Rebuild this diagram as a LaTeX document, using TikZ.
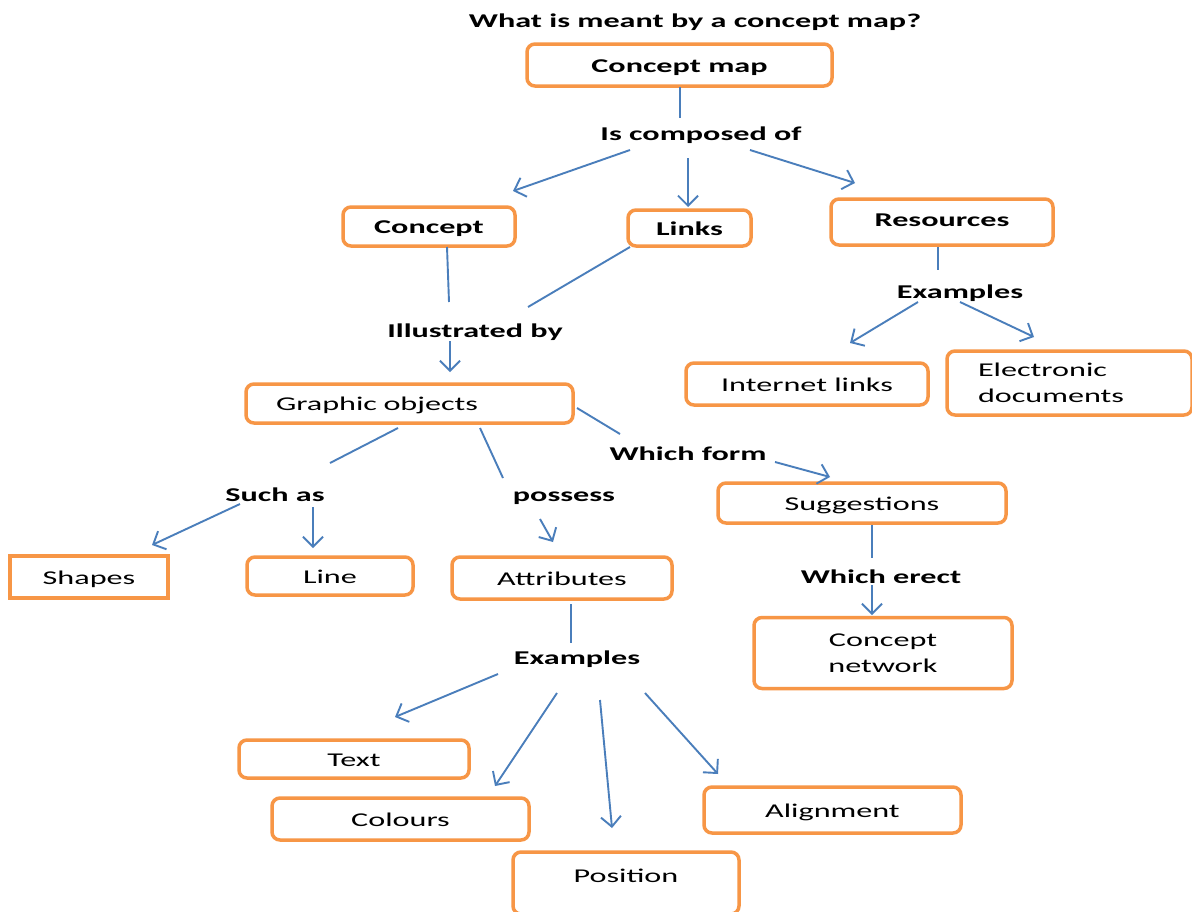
\documentclass[tikz,border=0pt]{standalone}
\usepackage{fontspec}
\setmainfont{Carlito}[FakeStretch=1.65]
\usetikzlibrary{arrows.meta}
\definecolor{boxorange}{HTML}{F79646}
\definecolor{linkblue}{HTML}{4A7EBB}
\tikzset{
  box/.style={draw=boxorange, line width=3.5pt, rounded corners=8pt, fill=white,
    font=\fontsize{19.5}{25}\selectfont, inner sep=0pt, align=center,
    text height=16pt, text depth=2pt},
  mbox/.style={draw=boxorange, line width=3.5pt, rounded corners=8pt, fill=white,
    font=\fontsize{19.5}{25.5}\selectfont, inner sep=0pt},
  sqbox/.style={box, rounded corners=0pt},
  lbl/.style={font=\fontsize{19.5}{25}\selectfont\bfseries, inner sep=0pt,
    text height=16pt, text depth=2pt},
  link/.style={draw=linkblue, line width=1.9pt},
  arr/.style={link, -{Straight Barb[length=10pt,width=20pt,line width=1.9pt]}}
}
\begin{document}
\begin{tikzpicture}[x=1pt,y=-1pt]
\useasboundingbox[fill=white] (0,0) rectangle (1192,911);
% title
\node[lbl] (title) at (695,20) {What is meant by a concept map?};
% boxes
\node[box, minimum width=305pt, minimum height=42pt, font=\fontsize{19.5}{25}\selectfont\bfseries] (cmap) at (679.5,65) {Concept map};
\node[box, minimum width=172pt, minimum height=39pt, font=\fontsize{19.5}{25}\selectfont\bfseries] (concept) at (429,226.5) {Concept};
\node[box, minimum width=123pt, minimum height=36pt, font=\fontsize{19.5}{25}\selectfont\bfseries] (links) at (689.5,228) {Links};
\node[box, minimum width=222pt, minimum height=46pt, text depth=8pt, font=\fontsize{19.5}{25}\selectfont\bfseries] (res) at (942,222) {Resources};
\node[box, minimum width=242pt, minimum height=42pt] (inet) at (807,384) {Internet links};
\node[mbox, minimum height=64pt, text width=183pt, inner xsep=31pt, align=left] (edoc) at (1069.5,383) {Electronic\\documents};
\node[box, minimum height=39pt, text width=267pt, inner xsep=30pt, align=left] (gobj) at (409.5,403.5) {Graphic objects};
\node[sqbox, minimum width=158pt, minimum height=42pt] (shapes) at (89,577) {Shapes};
\node[box, minimum width=166pt, minimum height=38pt] (line) at (330,576) {Line};
\node[box, minimum width=220pt, minimum height=42pt] (attr) at (562,578) {Attributes};
\node[box, minimum width=288pt, minimum height=40pt] (sugg) at (862,503) {Suggestions};
\node[mbox, minimum width=258pt, minimum height=71pt, align=center] (cnet) at (883,653) {Concept\\network};
\node[box, minimum width=230pt, minimum height=38pt] (text) at (354,759) {Text};
\node[box, minimum width=257pt, minimum height=42pt] (colours) at (400.5,819) {Colours};
\node[box, minimum width=257pt, minimum height=46pt] (align) at (832.5,810) {Alignment};
\node[box, minimum width=226pt, minimum height=62pt, text depth=18pt] (pos) at (626,883) {Position};
% linking phrases
\node[lbl] (compose) at (701,133) {Is composed of};
\node[lbl] (illus) at (475,330) {Illustrated by};
\node[lbl] (ex1) at (960,291) {Examples};
\node[lbl] (wform) at (688,453) {Which form};
\node[lbl] (such) at (275,494) {Such as};
\node[lbl] (poss) at (564,494) {possess};
\node[lbl] (ex2) at (577,657) {Examples};
\node[lbl] (erect) at (881,576) {Which erect};
% connectors
\draw[link] ([shift={(0.5,22)}]cmap.center) -- ([shift={(-21,-15)}]compose.center);
\draw[arr] ([shift={(-71,17)}]compose.center) -- ([shift={(84,-35.5)}]concept.center);
\draw[arr] ([shift={(-13,25)}]compose.center) -- ([shift={(-1.5,-21)}]links.center);
\draw[arr] ([shift={(49,17)}]compose.center) -- ([shift={(-87,-39)}]res.center);
\draw[link] ([shift={(18,20.5)}]concept.center) -- ([shift={(-26,-28)}]illus.center);
\draw[link] ([shift={(-59.5,19)}]links.center) -- ([shift={(53,-23)}]illus.center);
\draw[arr] ([shift={(-25,11)}]illus.center) -- ([shift={(40.5,-31.5)}]gobj.center);
\draw[link] ([shift={(-11.5,24.5)}]gobj.center) -- ([shift={(55,-31)}]such.center);
\draw[link] ([shift={(70.5,24.5)}]gobj.center) -- ([shift={(-61,-16)}]poss.center);
\draw[link] ([shift={(167.5,4.5)}]gobj.center) -- ([shift={(-68,-19)}]wform.center);
\draw[arr] ([shift={(87,9)}]wform.center) -- ([shift={(-32,-26)}]sugg.center);
\draw[arr] ([shift={(-35,10)}]such.center) -- ([shift={(63,-32)}]shapes.center);
\draw[arr] ([shift={(38,13)}]such.center) -- ([shift={(-17,-28)}]line.center);
\draw[arr] ([shift={(-24,25)}]poss.center) -- ([shift={(-9,-36)}]attr.center);
\draw[link] ([shift={(9,26)}]attr.center) -- ([shift={(-6,-14)}]ex2.center);
\draw[arr] ([shift={(-79,17)}]ex2.center) -- ([shift={(41,-42)}]text.center);
\draw[arr] ([shift={(-20,36)}]ex2.center) -- ([shift={(94.5,-33)}]colours.center);
\draw[arr] ([shift={(23,43)}]ex2.center) -- ([shift={(-14,-55)}]pos.center);
\draw[arr] ([shift={(68,36)}]ex2.center) -- ([shift={(-114.5,-36)}]align.center);
\draw[link] ([shift={(10,22)}]sugg.center) -- ([shift={(-9,-18)}]erect.center);
\draw[arr] ([shift={(-9,9)}]erect.center) -- ([shift={(-11,-38)}]cnet.center);
\draw[link] ([shift={(-4,25)}]res.center) -- ([shift={(-22,-21)}]ex1.center);
\draw[arr] ([shift={(-42,11)}]ex1.center) -- ([shift={(43,-41)}]inet.center);
\draw[arr] ([shift={(0,11)}]ex1.center) -- ([shift={(-35.5,-46)}]edoc.center);
\end{tikzpicture}
\end{document}
